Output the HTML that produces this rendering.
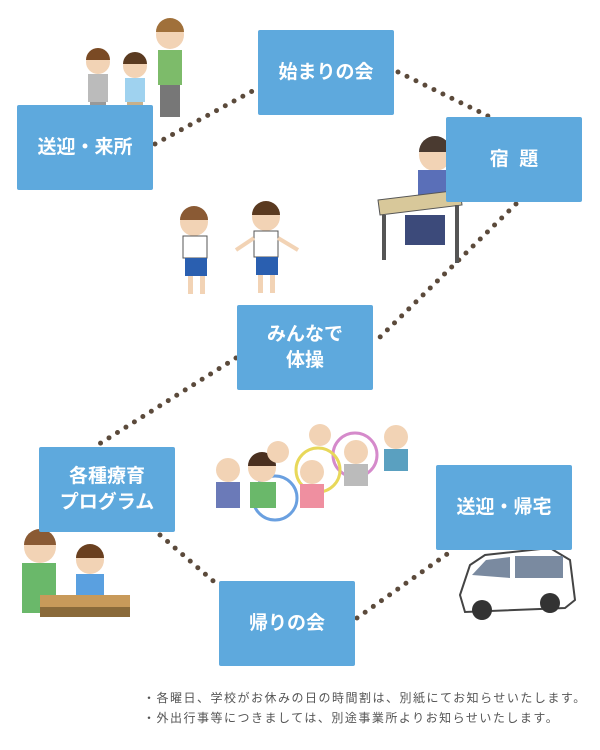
<!DOCTYPE html>
<html><head><meta charset="utf-8"><style>
html,body{margin:0;padding:0;background:#fff;}
body{width:600px;height:750px;position:relative;overflow:hidden;font-family:"Liberation Sans","Noto Sans CJK JP",sans-serif;}
.b{position:absolute;background:#5ea9dd;color:#fff;font-weight:bold;font-size:19px;display:flex;align-items:center;justify-content:center;text-align:center;line-height:1.35;border-radius:2px;width:136px;height:85px;}
svg{position:absolute;left:0;top:0;}
.note{position:absolute;left:143px;font-size:12px;color:#555;letter-spacing:1.5px;white-space:nowrap;}
</style></head><body>
<svg width="600" height="750">
<g stroke="#5b4a3b" stroke-width="5" stroke-linecap="round" stroke-dasharray="0 10" fill="none">
<line x1="155" y1="144" x2="258" y2="88"/>
<line x1="398" y1="72" x2="490" y2="117"/>
<line x1="516" y1="204" x2="374" y2="343"/>
<line x1="236" y1="358" x2="96" y2="446"/>
<line x1="160" y1="535" x2="219" y2="586"/>
<line x1="357" y1="618" x2="450" y2="552"/>
</g>
<g>
<circle cx="170" cy="35" r="14" fill="#f2d3b5"/><path d="M156 32a14 14 0 0 1 28 0z" fill="#a0703a"/>
<rect x="158" y="50" width="24" height="35" fill="#7dbb6a"/><rect x="160" y="85" width="20" height="32" fill="#777"/>
<circle cx="98" cy="62" r="12" fill="#f2d3b5"/><path d="M86 60a12 12 0 0 1 24 0z" fill="#7a4a24"/>
<rect x="88" y="74" width="20" height="28" fill="#bbb"/><rect x="90" y="102" width="16" height="20" fill="#999"/>
<circle cx="135" cy="66" r="12" fill="#f2d3b5"/><path d="M123 64a12 12 0 0 1 24 0z" fill="#5a3a20"/>
<rect x="125" y="78" width="20" height="24" fill="#9fd2ef"/><rect x="127" y="102" width="16" height="18" fill="#c8b08a"/>
</g>
<g>
<circle cx="435" cy="155" r="16" fill="#f2d3b5"/><path d="M419 152a16 16 0 0 1 32 0z" fill="#4a3a30"/>
<rect x="418" y="170" width="34" height="30" fill="#5a6fb8"/>
<polygon points="378,200 460,190 462,205 380,215" fill="#d8c89a" stroke="#555"/>
<rect x="382" y="215" width="4" height="45" fill="#555"/><rect x="455" y="205" width="4" height="58" fill="#555"/>
<rect x="405" y="215" width="40" height="30" fill="#3c4a7a"/>
</g>
<g>
<circle cx="194" cy="222" r="14" fill="#f2d3b5"/><path d="M180 220a14 14 0 0 1 28 0z" fill="#8a5a34"/>
<rect x="183" y="236" width="24" height="22" fill="#fff" stroke="#555"/><rect x="185" y="258" width="22" height="18" fill="#2a5fb0"/>
<rect x="188" y="276" width="5" height="18" fill="#f2d3b5"/><rect x="200" y="276" width="5" height="18" fill="#f2d3b5"/>
<circle cx="266" cy="217" r="14" fill="#f2d3b5"/><path d="M252 215a14 14 0 0 1 28 0z" fill="#5a3a20"/>
<rect x="254" y="231" width="24" height="26" fill="#fff" stroke="#555"/><rect x="256" y="257" width="22" height="18" fill="#2a5fb0"/>
<line x1="254" y1="238" x2="236" y2="250" stroke="#f2d3b5" stroke-width="4"/><line x1="278" y1="238" x2="298" y2="250" stroke="#f2d3b5" stroke-width="4"/>
<rect x="258" y="275" width="5" height="18" fill="#f2d3b5"/><rect x="270" y="275" width="5" height="18" fill="#f2d3b5"/>
</g>
<g>
<circle cx="355" cy="455" r="22" fill="none" stroke="#d58acb" stroke-width="3"/>
<circle cx="318" cy="470" r="22" fill="none" stroke="#e8d85a" stroke-width="3"/>
<circle cx="275" cy="498" r="22" fill="none" stroke="#6aa0e0" stroke-width="3"/>
<circle cx="228" cy="470" r="12" fill="#f2d3b5"/><rect x="216" y="482" width="24" height="26" fill="#6b7ab8"/>
<circle cx="262" cy="468" r="14" fill="#f2d3b5"/><path d="M248 466a14 14 0 0 1 28 0z" fill="#4a3020"/><rect x="250" y="482" width="26" height="26" fill="#6ab86a"/>
<circle cx="312" cy="472" r="12" fill="#f2d3b5"/><rect x="300" y="484" width="24" height="24" fill="#ef8fa0"/>
<circle cx="356" cy="452" r="12" fill="#f2d3b5"/><rect x="344" y="464" width="24" height="22" fill="#bbb"/>
<circle cx="396" cy="437" r="12" fill="#f2d3b5"/><rect x="384" y="449" width="24" height="22" fill="#5aa0c0"/>
<circle cx="320" cy="435" r="11" fill="#f2d3b5"/><circle cx="278" cy="452" r="11" fill="#f2d3b5"/>
</g>
<g>
<circle cx="40" cy="547" r="16" fill="#f2d3b5"/><path d="M24 545a16 16 0 0 1 32 0z" fill="#8a5a34"/>
<rect x="22" y="563" width="34" height="50" fill="#6ab86a"/>
<circle cx="90" cy="560" r="14" fill="#f2d3b5"/><path d="M76 558a14 14 0 0 1 28 0z" fill="#6a4020"/>
<rect x="76" y="574" width="28" height="24" fill="#5aa0e0"/>
<rect x="40" y="595" width="90" height="12" fill="#c89a5a"/><rect x="40" y="607" width="90" height="10" fill="#8a6a3a"/>
</g>
<g>
<path d="M460 595 L470 565 L485 555 L550 548 L570 560 L575 600 L565 608 L465 612 Z" fill="#fff" stroke="#444" stroke-width="2"/>
<polygon points="472,575 486,560 510,557 510,578" fill="#7a8aa0"/>
<rect x="515" y="556" width="48" height="22" fill="#7a8aa0"/>
<circle cx="482" cy="610" r="10" fill="#333"/><circle cx="550" cy="603" r="10" fill="#333"/>
</g>
</svg>
<div class="b" style="left:258px;top:30px;">始まりの会</div>
<div class="b" style="left:17px;top:105px;">送迎・来所</div>
<div class="b" style="left:446px;top:117px;">宿&nbsp;&nbsp;題</div>
<div class="b" style="left:237px;top:305px;">みんなで<br>体操</div>
<div class="b" style="left:39px;top:447px;">各種療育<br>プログラム</div>
<div class="b" style="left:436px;top:465px;">送迎・帰宅</div>
<div class="b" style="left:219px;top:581px;">帰りの会</div>
<div class="note" style="top:689px;">・各曜日、学校がお休みの日の時間割は、別紙にてお知らせいたします。</div>
<div class="note" style="top:709px;">・外出行事等につきましては、別途事業所よりお知らせいたします。</div>
</body></html>
